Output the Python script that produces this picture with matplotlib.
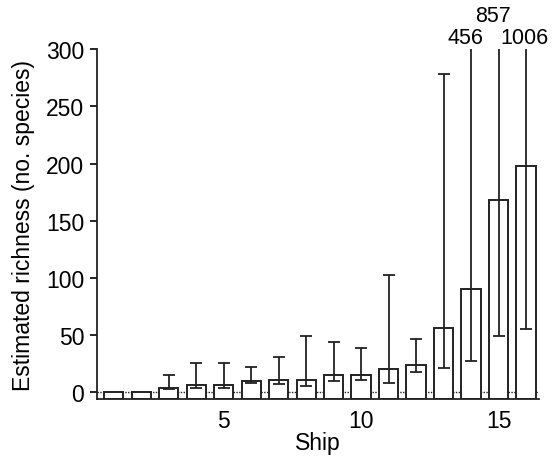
import matplotlib
matplotlib.use('Agg')
import matplotlib.pyplot as plt
import numpy as np

plt.rcParams['font.family'] = ['Liberation Sans', 'DejaVu Sans']

ships = list(range(1, 17))
richness = [0, 0, 4, 6.7, 6.7, 10, 10.8, 10.8, 15, 15, 20, 24, 56.6, 90, 168, 197.5]
ci_lower = [0, 0, 2.6, 3.8, 3.8, 8.5, 7.3, 5.5, 9.6, 10.5, 8.5, 18, 21, 27.7, 49, 55.7]
ci_upper = [0, 0, 15, 26, 26, 22, 31, 49, 44, 39, 103, 47, 278.5, 456, 857, 1006]
ymin, ymax = -6, 300
tick_vals = [0, 50, 100, 150, 200, 250, 300]
xtick_vals = [5, 10, 15]

FS = 16.5
FS_ANN = 15.5

fig = plt.figure(figsize=(5.53, 4.60), dpi=100)
ax = fig.add_axes([0.175, 0.130, 0.800, 0.761])

x = np.array(ships)
r = np.array(richness)
lo = np.array(ci_lower)
up = np.array(ci_upper)

ax.bar(x, r - ymin, bottom=ymin, width=0.7, facecolor='white',
       edgecolor='#222222', linewidth=1.4, zorder=2)

mask = up > r
ax.errorbar(x[mask], r[mask], yerr=[r[mask] - lo[mask], up[mask] - r[mask]],
            fmt='none', ecolor='#222222', elinewidth=1.3, capsize=4,
            capthick=1.3, zorder=3)

ax.axhline(0, color='#222222', linestyle=(0, (1, 1)), linewidth=1.0, zorder=1)

# labels for off-scale upper limits
off = up > ymax
offs_x = {14: -0.22, 15: -0.2, 16: -0.05}
offs_y = {14: 305, 15: 325, 16: 305}
for xi, ui in zip(x[off], up[off]):
    ax.text(xi + offs_x[int(xi)], offs_y[int(xi)], f"{int(ui)}", ha='center',
            va='baseline', fontsize=FS_ANN, clip_on=False)

ax.set_xlim(0.38, 16.48)
ax.set_ylim(ymin, ymax)
ax.set_yticks(tick_vals)
ax.set_xticks(xtick_vals)
ax.tick_params(axis='x', length=0, labelsize=FS, pad=7)
ax.tick_params(axis='y', length=5, width=1.2, direction='out', labelsize=FS, pad=4)
for s in ['top', 'right']:
    ax.spines[s].set_visible(False)
for s in ['left', 'bottom']:
    ax.spines[s].set_linewidth(1.3)
    ax.spines[s].set_color('#222222')
ax.spines['left'].set_bounds(ymin, ymax)

ax.set_xlabel('Ship', fontsize=FS, labelpad=-1)
ax.set_ylabel('Estimated richness (no. species)', fontsize=FS, labelpad=8)

fig.savefig('out.png', dpi=100)
